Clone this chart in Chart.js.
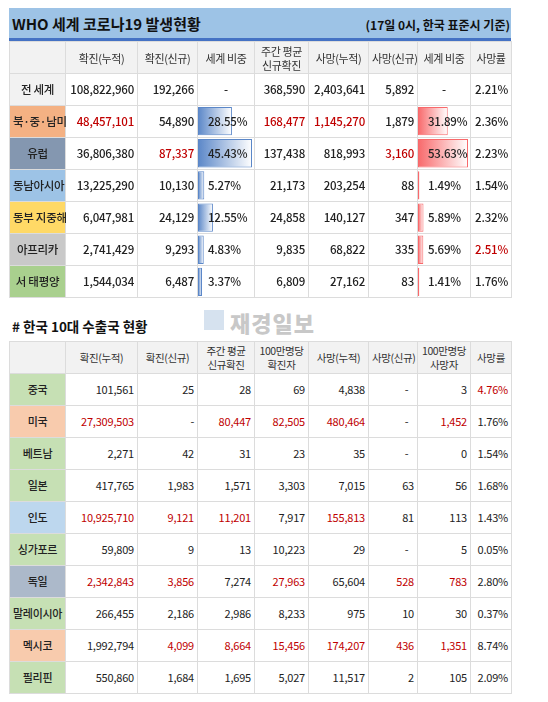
<!DOCTYPE html>
<html><head><meta charset="utf-8">
<script src="https://cdn.jsdelivr.net/npm/chart.js@4"></script>
<style>
body{margin:0;background:#fff;font-family:"Noto Sans CJK KR","Noto Sans",sans-serif;width:548px;height:702px;position:relative;overflow:hidden}
.abs{position:absolute}
table{border-collapse:collapse;table-layout:fixed;position:absolute;left:9px;width:502px;z-index:2;background:transparent}
td{border:1px solid #dcdcdc;padding:0 3px;height:31px;font-size:11.5px;color:#222;text-align:right;white-space:nowrap;overflow:visible;line-height:13px;letter-spacing:-0.2px}
td.h{background:#f2f2f2;text-align:center;color:#333;font-size:10.5px;line-height:14px;letter-spacing:-0.4px}
td.r{text-align:center;font-size:11.5px;letter-spacing:-0.3px}
td.c{text-align:center}
.t1 td{font-weight:500}
.t1 td.h{font-weight:400;font-size:11px}
.t2 td{font-size:11px;font-weight:400}
.t2 td.h{font-size:10.5px}
.t2 td.r{font-weight:500}
.red{color:#c00000 !important}
canvas{position:absolute;z-index:1}
</style></head><body>
<div class="abs" style="left:9px;top:8px;width:502px;height:30px;background:#9dc3e6;border-bottom:3px solid #4472c4"></div>
<div class="abs" style="left:12px;top:13px;font-weight:700;font-size:15px;color:#111;z-index:3">WHO 세계 코로나19 발생현황</div>
<div class="abs" style="right:38px;top:16px;font-weight:700;font-size:12px;color:#111;z-index:3">(17일 0시, 한국 표준시 기준)</div>
<div class="abs" style="left:12px;top:316px;font-weight:700;font-size:13.5px;color:#111">#&nbsp;한국 10대 수출국 현황</div>
<div class="abs" style="left:204px;top:310px;width:20px;height:20px;background:#c5d6e8;opacity:.7"></div>
<div class="abs" style="left:230px;top:306px;font-weight:800;font-size:22px;color:#c8c8c8;letter-spacing:1px">재경일보</div>
<canvas id="c1" width="57" height="193" style="left:197px;top:105px;width:57px;height:193px"></canvas>
<canvas id="c2" width="53" height="193" style="left:417px;top:105px;width:53px;height:193px"></canvas>
<table class="t1" id="t1" style="top:41px"></table>
<table class="t2" id="t2" style="top:341px"></table>
<script>
// ---- Table 1 data ----
const heads1 = ['', '확진(누적)', '확진(신규)', '세계 비중', '주간 평균<br>신규확진', '사망(누적)', '사망(신규)', '세계 비중', '사망률'];
const regions = ['전 세계','북·중·남미','유럽','동남아시아','동부 지중해','아프리카','서 태평양'];
const confCum = ['108,822,960','48,457,101','36,806,380','13,225,290','6,047,981','2,741,429','1,544,034'];
const confNew = ['192,266','54,890','87,337','10,130','24,129','9,293','6,487'];
const confShare = [null, 28.55, 45.43, 5.27, 12.55, 4.83, 3.37];
const weekAvg = ['368,590','168,477','137,438','21,173','24,858','9,835','6,809'];
const deathCum = ['2,403,641','1,145,270','818,993','203,254','140,127','68,822','27,162'];
const deathNew = ['5,892','1,879','3,160','88','347','335','83'];
const deathShare = [null, 31.89, 53.63, 1.49, 5.89, 5.69, 1.41];
const deathRate = ['2.21%','2.36%','2.23%','1.54%','2.32%','2.51%','1.76%'];
// ---- Table 2 data ----
const heads2 = ['', '확진(누적)', '확진(신규)', '주간 평균<br>신규확진', '100만명당<br>확진자', '사망(누적)', '사망(신규)', '100만명당<br>사망자', '사망률'];
const countries = ['중국','미국','베트남','일본','인도','싱가포르','독일','말레이시아','멕시코','필리핀'];
const c2Cum = ['101,561','27,309,503','2,271','417,765','10,925,710','59,809','2,342,843','266,455','1,992,794','550,860'];
const c2New = ['25','-','42','1,983','9,121','9','3,856','2,186','4,099','1,684'];
const c2Week = ['28','80,447','31','1,571','11,201','13','7,274','2,986','8,664','1,695'];
const c2PerM = ['69','82,505','23','3,303','7,917','10,223','27,963','8,233','15,456','5,027'];
const c2Death = ['4,838','480,464','35','7,015','155,813','29','65,604','975','174,207','11,517'];
const c2DNew = ['-','-','-','63','81','-','528','10','436','2'];
const c2DPerM = ['3','1,452','0','56','113','5','783','30','1,351','105'];
const c2Rate = ['4.76%','1.76%','1.54%','1.68%','1.43%','0.05%','2.80%','0.37%','8.74%','2.09%'];

// styles (kept separate from data)
const widths = [56,72,60,57,54,60,49,53,41];
const regionBg = ['#f2f2f2','#f4b183','#8497b0','#9dc3e6','#ffd966','#c9c9c9','#a9d08e'];
const countryBg = ['#c6e0b4','#f8cbad','#c6e0b4','#c6e0b4','#bdd7ee','#c6e0b4','#acb9ca','#c6e0b4','#f8cbad','#c6e0b4'];
const red1 = {'1-1':1,'2-2':1,'1-4':1,'1-5':1,'2-6':1,'5-8':1};
const red2 = {'1-1':1,'1-3':1,'1-4':1,'1-5':1,'1-7':1,'4-1':1,'4-2':1,'4-3':1,'4-5':1,'6-1':1,'6-2':1,'6-4':1,'6-6':1,'6-7':1,'8-2':1,'8-3':1,'8-4':1,'8-5':1,'8-6':1,'8-7':1,'0-8':1};

function colgroup(){return '<colgroup>'+widths.map(w=>`<col style="width:${w}px">`).join('')+'</colgroup>';}
function build(id, heads, rows, bgs, reds, centerCols){
  let h = colgroup()+'<tr>'+heads.map(x=>`<td class="h">${x}</td>`).join('')+'</tr>';
  rows.forEach((r,i)=>{
    h+='<tr>'+r.map((v,j)=>{
      if(j===0) return `<td class="r" style="background:${bgs[i]}">${v}</td>`;
      const cls=[(reds[i+'-'+j]?'red':''),(centerCols.includes(j)&&v==='-'?'c':'')].join(' ');
      const pad = centerCols.includes(j)&&v!=='-'?'style="text-align:left;padding-left:10px"':'';
      return `<td class="${cls}" ${pad}>${v}</td>`;
    }).join('')+'</tr>';
  });
  document.getElementById(id).innerHTML=h;
}
const rows1 = regions.map((r,i)=>[r,confCum[i],confNew[i],confShare[i]==null?'-':confShare[i].toFixed(2)+'%',weekAvg[i],deathCum[i],deathNew[i],deathShare[i]==null?'-':deathShare[i].toFixed(2)+'%',deathRate[i]]);
build('t1',heads1,rows1,regionBg,red1,[3,7]);
const rows2 = countries.map((c,i)=>[c,c2Cum[i],c2New[i],c2Week[i],c2PerM[i],c2Death[i],c2DNew[i],c2DPerM[i],c2Rate[i]]);
build('t2',heads2,rows2,countryBg,red2,[]);
document.querySelectorAll('#t2 td').forEach(td=>{ if(td.cellIndex===6 && td.textContent==='-'){td.style.textAlign='center';td.style.paddingLeft='30px';} });

function bar(id, vals, solid, edge){
  const labels = regions.slice(1), data = vals.slice(1), mx = Math.max(...data);
  new Chart(document.getElementById(id),{
    type:'bar',
    data:{labels, datasets:[{data,
      backgroundColor:(ctx)=>{
        const ch=ctx.chart, x=ch.scales && ch.scales.x; if(!x || !ch.chartArea) return solid;
        const v=ctx.raw||0; const x0=x.getPixelForValue(0), x1=x.getPixelForValue(v);
        if(!isFinite(x0)||!isFinite(x1)) return solid;
        const g=ch.ctx.createLinearGradient(x0,0,Math.max(x1,x0+1),0);
        g.addColorStop(0,solid); g.addColorStop(1,'#ffffff'); return g;},
      borderColor:edge, borderWidth:1, borderSkipped:false,
      barPercentage:0.88, categoryPercentage:1}]},
    options:{indexAxis:'y',responsive:false,animation:false,events:[],
      layout:{padding:{left:1,right:2,top:0,bottom:0}},
      plugins:{legend:{display:false},tooltip:{enabled:false}},
      scales:{x:{display:false,min:0,max:mx},y:{display:false}}}
  });
}
bar('c1',confShare,'#5b87c8','#5b87c8');
bar('c2',deathShare,'#f8696b','#f8696b');
</script>
</body></html>
